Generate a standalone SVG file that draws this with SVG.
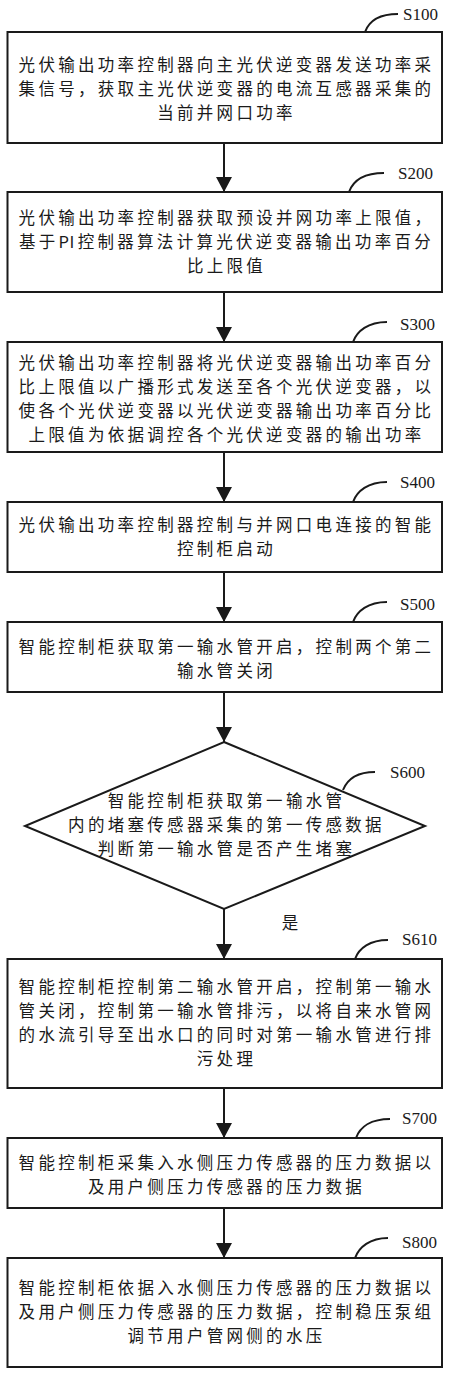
<svg xmlns="http://www.w3.org/2000/svg" width="450" height="1374" viewBox="0 0 450 1374">
<style>
.box{fill:#fff;stroke:#1a1a1a;stroke-width:2}
.t{font-family:"Noto Sans CJK SC",sans-serif;font-size:16.5px;letter-spacing:3.3px;fill:#1a1a1a;text-anchor:middle}
.lbl{font-family:"Liberation Serif",serif;font-size:17px;fill:#1a1a1a}
.cv{fill:none;stroke:#1a1a1a;stroke-width:2}
.ar{fill:none;stroke:#1a1a1a;stroke-width:2;marker-end:url(#ah)}
</style>
<defs>
<marker id="ah" markerUnits="userSpaceOnUse" markerWidth="16" markerHeight="16" viewBox="0 0 16 16" refX="15" refY="8" orient="auto">
<path d="M0,0 L15,8 L0,16 Z" fill="#1a1a1a"/>
</marker>
</defs>
<rect width="450" height="1374" fill="#fff"/>
<g id="connectors">
<line class="ar" x1="224" y1="143" x2="224" y2="192"/>
<line class="ar" x1="224" y1="292" x2="224" y2="342"/>
<line class="ar" x1="224" y1="452" x2="224" y2="502"/>
<line class="ar" x1="224" y1="572" x2="224" y2="622"/>
<line class="ar" x1="224" y1="692" x2="224" y2="742"/>
<line class="ar" x1="224" y1="909" x2="224" y2="959"/>
<line class="ar" x1="224" y1="1088" x2="224" y2="1138"/>
<line class="ar" x1="224" y1="1208" x2="224" y2="1258"/>
<text class="t" x="290" y="929" style="letter-spacing:0">是</text>
</g>
<g id="S100">
<rect class="box" x="7.5" y="32" width="434.5" height="111"/>
<text class="t" x="226.5" y="71">光伏输出功率控制器向主光伏逆变器发送功率采</text>
<text class="t" x="226.5" y="95">集信号，获取主光伏逆变器的电流互感器采集的</text>
<text class="t" x="226.5" y="119">当前并网口功率</text>
<path class="cv" d="M365,32 C369,21 380,14 398,14"/>
<text class="lbl" x="403" y="20">S100</text>
</g>
<g id="S200">
<rect class="box" x="7.5" y="192" width="434.5" height="100"/>
<text class="t" x="226.5" y="224">光伏输出功率控制器获取预设并网功率上限值，</text>
<text class="t" x="226.5" y="248">基于<tspan style="letter-spacing:0.5px">P</tspan>I控制器算法计算光伏逆变器输出功率百分</text>
<text class="t" x="226.5" y="272">比上限值</text>
<path class="cv" d="M349,192 C353,181 364,173 384,173"/>
<text class="lbl" x="398" y="179">S200</text>
</g>
<g id="S300">
<rect class="box" x="7.5" y="342" width="434.5" height="110"/>
<text class="t" x="226.5" y="369">光伏输出功率控制器将光伏逆变器输出功率百分</text>
<text class="t" x="226.5" y="393">比上限值以广播形式发送至各个光伏逆变器，以</text>
<text class="t" x="226.5" y="417">使各个光伏逆变器以光伏逆变器输出功率百分比</text>
<text class="t" x="226.5" y="441">上限值为依据调控各个光伏逆变器的输出功率</text>
<path class="cv" d="M353,342 C357,331 368,322 387,322"/>
<text class="lbl" x="400" y="330">S300</text>
</g>
<g id="S400">
<rect class="box" x="7.5" y="502" width="434.5" height="70"/>
<text class="t" x="226.5" y="531">光伏输出功率控制器控制与并网口电连接的智能</text>
<text class="t" x="226.5" y="555">控制柜启动</text>
<path class="cv" d="M353,502 C357,491 368,482 387,482"/>
<text class="lbl" x="400" y="488">S400</text>
</g>
<g id="S500">
<rect class="box" x="7.5" y="622" width="434.5" height="70"/>
<text class="t" x="226.5" y="653">智能控制柜获取第一输水管开启，控制两个第二</text>
<text class="t" x="226.5" y="677">输水管关闭</text>
<path class="cv" d="M353,622 C357,611 368,602 387,602"/>
<text class="lbl" x="400" y="610">S500</text>
</g>
<g id="S600">
<polygon class="box" points="224,742 425,826 224,909 25,826"/>
<text class="t" x="226.5" y="807">智能控制柜获取第一输水管</text>
<text class="t" x="226.5" y="831">内的堵塞传感器采集的第一传感数据</text>
<text class="t" x="226.5" y="855">判断第一输水管是否产生堵塞</text>
<path class="cv" d="M343,790 C347,780 357,772 375,772"/>
<text class="lbl" x="390" y="778">S600</text>
</g>
<g id="S610">
<rect class="box" x="7.5" y="959" width="434.5" height="129"/>
<text class="t" x="226.5" y="993">智能控制柜控制第二输水管开启，控制第一输水</text>
<text class="t" x="226.5" y="1017">管关闭，控制第一输水管排污，以将自来水管网</text>
<text class="t" x="226.5" y="1041">的水流引导至出水口的同时对第一输水管进行排</text>
<text class="t" x="226.5" y="1065">污处理</text>
<path class="cv" d="M355,959 C359,948 370,940 388,940"/>
<text class="lbl" x="402" y="945">S610</text>
</g>
<g id="S700">
<rect class="box" x="7.5" y="1138" width="434.5" height="70"/>
<text class="t" x="226.5" y="1169">智能控制柜采集入水侧压力传感器的压力数据以</text>
<text class="t" x="226.5" y="1193">及用户侧压力传感器的压力数据</text>
<path class="cv" d="M356,1138 C360,1127 371,1119 390,1119"/>
<text class="lbl" x="402" y="1124">S700</text>
</g>
<g id="S800">
<rect class="box" x="7.5" y="1258" width="434.5" height="109"/>
<text class="t" x="226.5" y="1294">智能控制柜依据入水侧压力传感器的压力数据以</text>
<text class="t" x="226.5" y="1318">及用户侧压力传感器的压力数据，控制稳压泵组</text>
<text class="t" x="226.5" y="1342">调节用户管网侧的水压</text>
<path class="cv" d="M355,1258 C359,1247 370,1238 388,1238"/>
<text class="lbl" x="402" y="1248">S800</text>
</g>
</svg>
